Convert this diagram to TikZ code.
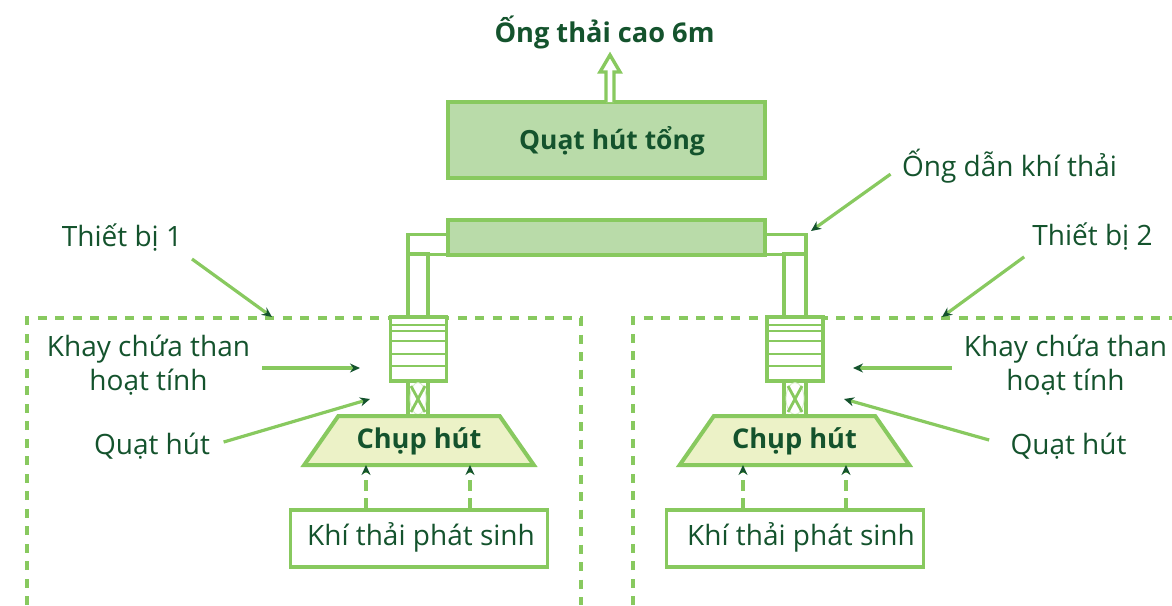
\documentclass[tikz,border=0pt]{standalone}
\usepackage{fontspec}
\setmainfont{Open Sans}
\usetikzlibrary{arrows.meta}
\usetikzlibrary{shapes.geometric}
\definecolor{linegreen}{HTML}{88C95F}
\definecolor{darkgreen}{HTML}{14532D}
\definecolor{boxgreen}{HTML}{B9DBA9}
\definecolor{hoodgreen}{HTML}{ECF2C7}
\tikzset{
  thickline/.style={draw=linegreen, line width=4pt},
  thinline/.style={draw=linegreen, line width=3.4pt},
  label/.style={text=darkgreen, font=\fontsize{28}{33.5}\selectfont, align=center, inner sep=0pt},
  boldlabel/.style={label, font=\fontsize{27.2}{33}\selectfont\bfseries},
  pipe/.style={thinline, fill=white, rectangle, inner sep=0pt},
  hood/.style={boldlabel, thickline, fill=hoodgreen, trapezium, trapezium stretches=true, trapezium left angle=46, trapezium right angle=46, minimum width=230, minimum height=49},
  pointer/.style={draw=linegreen, line width=3.2pt, -{Stealth[length=10pt, width=9pt, color=darkgreen]}},
  dashbound/.style={draw=linegreen, line width=3.2pt, dash pattern=on 9pt off 8.5pt},
  riser/.style={draw=linegreen, line width=3.2pt, dash pattern=on 10.5pt off 7pt, -{Stealth[length=10pt, width=9pt, color=darkgreen]}},
}
\begin{document}
\begin{tikzpicture}[x=1pt, y=-1pt]
  \useasboundingbox (0, 0) rectangle (1172, 605);

  % dashed equipment frames
  \draw[dashbound] (27, 605) -- (27, 318) -- (581, 318) -- (581, 605);
  \draw[dashbound] (633, 605) -- (633, 318) -- (1172, 318);

  % main fan and stack
  \node[thickline, fill=boxgreen, rectangle, inner sep=0pt, minimum width=317, minimum height=76] (fanmain) at (606.5, 140) {};
  \node[boldlabel, font=\fontsize{26.4}{33}\selectfont\bfseries] (fanmaintext) at (612, 141) {Quạt hút tổng};
  \node[boldlabel] (stacktext) at (604.5, 32) {Ống thải cao 6m};
  \draw[thinline, fill=white] (606, 102) -- (606, 72) -- (600, 72) -- (610, 55) -- (620, 72) -- (614, 72) -- (614, 102);

  % elbows go under the duct
  \node[pipe, minimum width=40, minimum height=20] (elbowL) at (428, 244.5) {};
  \node[pipe, minimum width=41, minimum height=20] (elbowR) at (785.5, 244.5) {};
  \node[pipe, minimum width=20, minimum height=64] (riserL) at (418, 286) {};
  \node[pipe, minimum width=22, minimum height=64] (riserR) at (795, 286) {};
  \node[thickline, fill=boxgreen, rectangle, inner sep=0pt, minimum width=317, minimum height=35] (duct) at (606.5, 237.5) {};

  % carbon trays
  \node[pipe, minimum width=56, minimum height=64] (trayL) at (418.5, 349) {};
  \node[pipe, minimum width=56, minimum height=64] (trayR) at (795, 349) {};
  \foreach \y in {325, 331, 341, 354, 366} {
    \draw[linegreen, line width=2.8pt] (390, \y) -- (447, \y);
    \draw[linegreen, line width=2.8pt] (767, \y) -- (823, \y);
  }

  % small fans
  \node[pipe, minimum width=20, minimum height=35] (fanL) at (418, 398.5) {};
  \node[pipe, minimum width=22, minimum height=35] (fanR) at (795, 398.5) {};
  \foreach \x/\w in {418/8, 795/9} {
    \draw[linegreen!35, line width=0.8pt] (\x, 398.5) ellipse ({\w} and 16);
    \draw[linegreen, line width=2.8pt] (\x-7, 386) -- (\x+7, 412);
    \draw[linegreen, line width=2.8pt] (\x+7, 386) -- (\x-7, 412);
  }

  % hoods
  \node[hood] (hoodL) at (419, 440.5) {\phantom{Chụp hút}};
  \node[hood] (hoodR) at (794.5, 440.5) {\phantom{Chụp hút}};
  \node[boldlabel] (hoodLtext) at (419, 441) {Chụp hút};
  \node[boldlabel] (hoodRtext) at (794.5, 441) {Chụp hút};

  % exhaust source boxes
  \node[thinline, rectangle, inner sep=0pt, minimum width=257, minimum height=57] (gasL) at (419, 538.5) {};
  \node[thinline, rectangle, inner sep=0pt, minimum width=257, minimum height=57] (gasR) at (795, 538.5) {};
  \node[label] (gasLtext) at (421, 537) {Khí thải phát sinh};
  \node[label] (gasRtext) at (801, 537) {Khí thải phát sinh};

  \coordinate (riseA) at (366, 465);
  \coordinate (riseB) at (470, 465);
  \coordinate (riseC) at (743, 465);
  \coordinate (riseD) at (846, 465);
  \draw[riser] (riseA |- gasL.north) -- (riseA);
  \draw[riser] (riseB |- gasL.north) -- (riseB);
  \draw[riser] (riseC |- gasR.north) -- (riseC);
  \draw[riser] (riseD |- gasR.north) -- (riseD);

  % labels with pointers
  \node[label] (unitL) at (122, 238) {Thiết bị 1};
  \node[label] (unitR) at (1092.5, 237) {Thiết bị 2};
  \node[label] (ductlabel) at (1009.5, 166) {Ống dẫn khí thải};
  \node[label] (trayLlabel) at (148.5, 365) {Khay chứa than\\hoạt tính};
  \node[label] (trayRlabel) at (1065.5, 365) {Khay chứa than\\hoạt tính};
  \node[label] (fanLlabel) at (152, 446) {Quạt hút};
  \node[label] (fanRlabel) at (1068.5, 446) {Quạt hút};

  \coordinate (tipunitL) at (272, 317);
  \coordinate (tipunitR) at (942, 317);
  \coordinate (tipduct) at (811, 231);
  \coordinate (tiptrayL) at (360, 368);
  \coordinate (tiptrayR) at (853, 368);
  \coordinate (tipfanL) at (370, 399);
  \coordinate (tipfanR) at (844, 399);

  \draw[pointer, shorten <=12pt] (unitL.south east) -- (tipunitL);
  \draw[pointer, shorten <=10pt] (unitR.south west) -- (tipunitR);
  \draw[pointer, shorten <=14pt] (ductlabel.west) -- (tipduct);
  \draw[pointer, shorten <=12pt] ([yshift=-3pt]trayLlabel.east) -- (tiptrayL);
  \draw[pointer, shorten <=12pt] ([yshift=-3pt]trayRlabel.west) -- (tiptrayR);
  \draw[pointer, shorten <=14pt] (fanLlabel.east) -- (tipfanL);
  \draw[pointer, shorten <=22pt] (fanRlabel.west) -- (tipfanR);
\end{tikzpicture}
\end{document}
